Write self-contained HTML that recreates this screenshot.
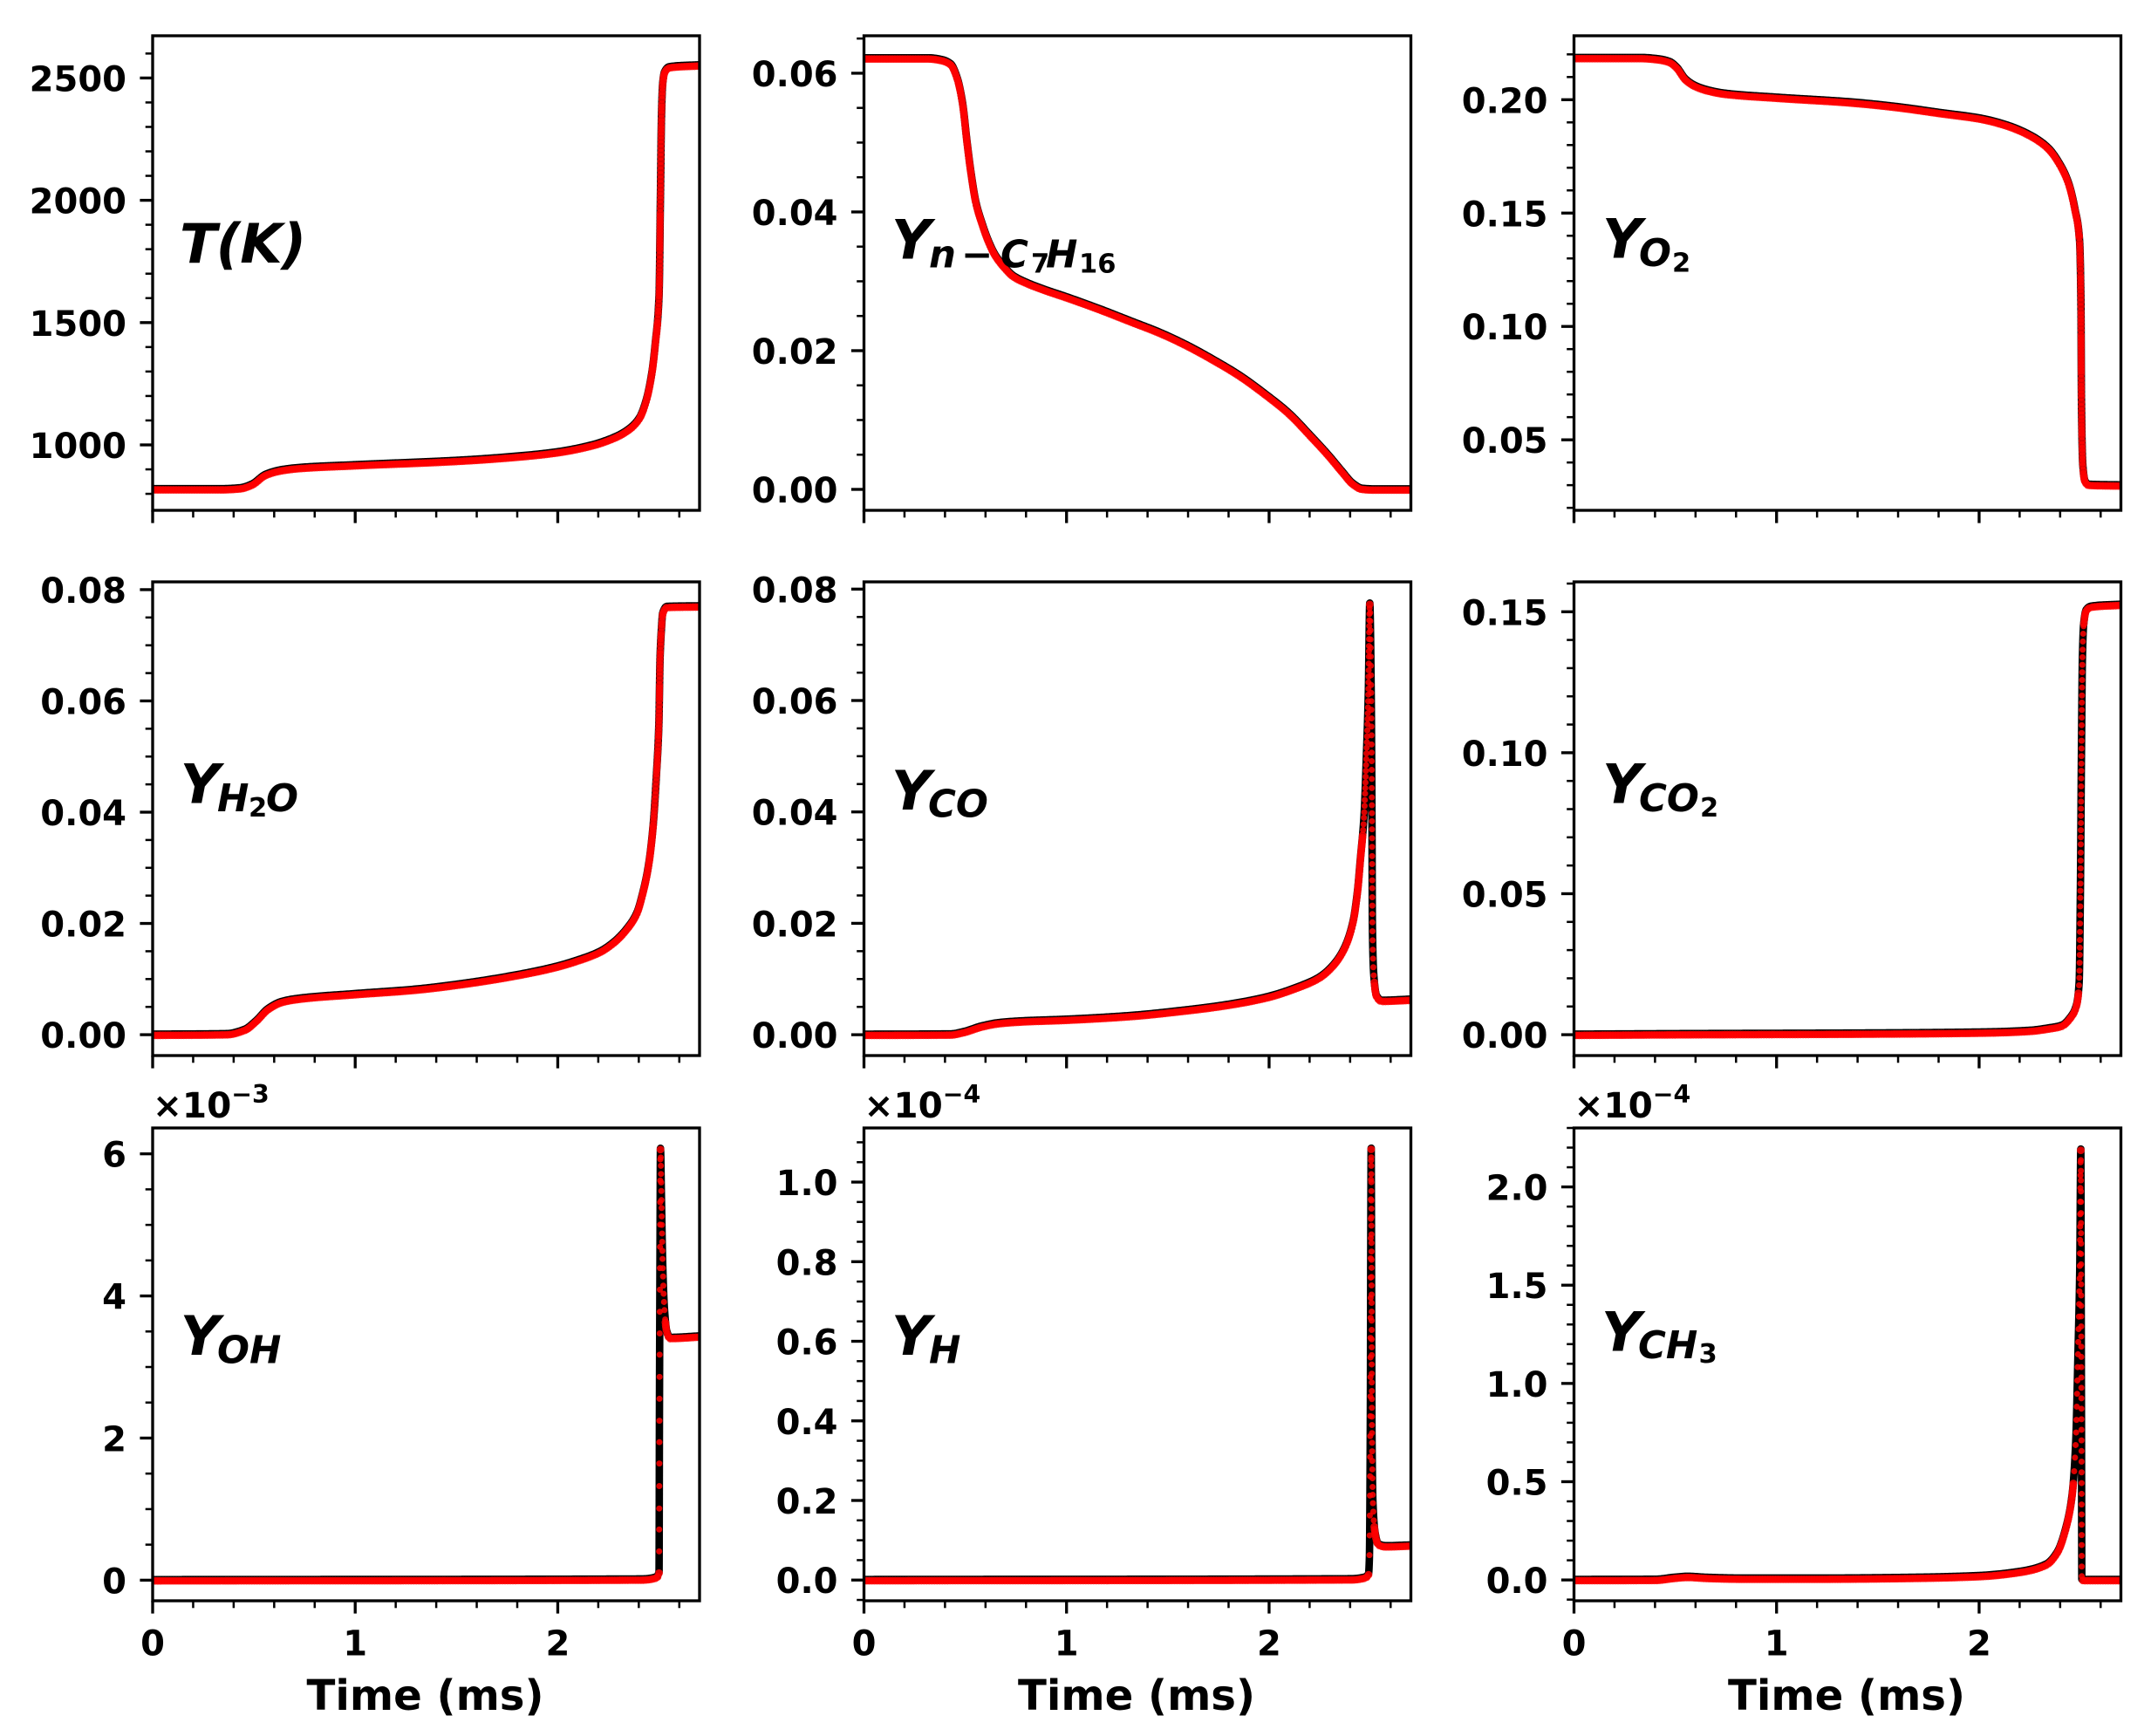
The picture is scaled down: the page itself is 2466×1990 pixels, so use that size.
<!DOCTYPE html>
<html>
<head>
<meta charset="utf-8">
<title>Ignition time histories</title>
<style>
html,body{margin:0;padding:0;background:#fff;}
svg{display:block;}
text{font-family:"DejaVu Sans","Liberation Sans",sans-serif;font-weight:700;fill:#000;}
</style>
</head>
<body>
<svg id="figure" xmlns="http://www.w3.org/2000/svg" width="2466" height="1990" viewBox="0 0 2466 1990">
<rect x="0" y="0" width="2466" height="1990" fill="#fff"/>
</svg>
<script>
// ---- shared axis data ----
const xTicksMajor = [0, 1, 2];
const xTickLabels = ['0', '1', '2'];
const xMax = 2.7;
const xMinorStep = 0.2;

// ---- temperature ----
const timeT = [0,0.342,0.433,0.49,0.558,0.638,0.729,1.0,1.525,1.753,1.981,2.163,2.277,2.345,2.402,2.436,2.464,2.482,2.5,2.507,2.512,2.518,2.527,2.55,2.7];
const valueT = [819,819,823,838,878,897,906,917,936,949,968,997,1029,1060,1108,1180,1291,1418,1609,2022,2340,2475,2523,2544,2552];
const ticksT = ['1000','1500','2000','2500'];

// ---- n-heptane ----
const timeC7 = [0,0.318,0.384,0.428,0.461,0.487,0.509,0.527,0.553,0.582,0.614,0.647,0.691,0.735,0.801,0.889,1.0,1.152,1.328,1.459,1.591,1.723,1.854,1.986,2.096,2.205,2.293,2.359,2.414,2.458,2.513,2.7];
const valueC7 = [0.06215,0.06215,0.0619,0.0613,0.0592,0.0556,0.05,0.0459,0.0413,0.0384,0.0358,0.0338,0.0321,0.0308,0.0298,0.0288,0.0277,0.0261,0.0241,0.0226,0.0208,0.0187,0.0164,0.0136,0.011,0.0077,0.0049,0.0026,0.0008,0.0001,0,0];
const ticksC7 = ['0.00','0.02','0.04','0.06'];

// ---- O2 ----
const timeO2 = [0,0.329,0.418,0.473,0.506,0.55,0.595,0.661,0.75,1.0,1.369,1.59,1.81,2.01,2.142,2.253,2.341,2.397,2.441,2.474,2.496,2.503,2.505,2.512,2.523,2.541,2.7];
const valueO2 = [0.2184,0.2184,0.2178,0.2166,0.2143,0.209,0.2062,0.2041,0.2026,0.2009,0.1988,0.1968,0.1941,0.1916,0.1885,0.1842,0.1786,0.1717,0.1633,0.1512,0.1375,0.107,0.069,0.0386,0.0317,0.0302,0.0299];
const ticksO2 = ['0.05','0.10','0.15','0.20'];

// ---- H2O ----
const timeH2O = [0,0.364,0.455,0.512,0.569,0.638,0.729,1.0,1.296,1.525,1.753,1.981,2.094,2.208,2.277,2.345,2.391,2.418,2.448,2.471,2.487,2.499,2.505,2.512,2.518,2.539,2.7];
const valueH2O = [0,0.0001,0.0009,0.0025,0.0046,0.0059,0.0065,0.0073,0.0081,0.0091,0.0104,0.0121,0.0133,0.0149,0.0166,0.0192,0.0219,0.0252,0.0304,0.0376,0.0466,0.0556,0.0676,0.073,0.0757,0.0769,0.077];
const ticksH2O = ['0.00','0.02','0.04','0.06','0.08'];

// ---- CO ----
const timeCO = [0,0.428,0.494,0.582,0.669,0.779,1.0,1.328,1.547,1.766,1.986,2.14,2.249,2.315,2.37,2.414,2.436,2.451,2.469,2.48,2.49,2.497,2.504,2.508,2.51,2.517,2.53,2.556,2.7];
const valueCO = [0,0.00006,0.0005,0.0015,0.0021,0.0024,0.0027,0.0034,0.0042,0.0052,0.0067,0.0085,0.0103,0.0124,0.0154,0.0202,0.0256,0.0316,0.0394,0.0496,0.0615,0.0774,0.0615,0.0376,0.0196,0.0106,0.007,0.0061,0.0063];
const ticksCO = ['0.00','0.02','0.04','0.06','0.08'];

// ---- CO2 ----
const timeCO2 = [0,0.55,1.37,2.03,2.253,2.34,2.408,2.452,2.48,2.494,2.5,2.505,2.51,2.516,2.529,2.552,2.7];
const valueCO2 = [0,0.0002,0.0004,0.0008,0.0014,0.0022,0.0032,0.0062,0.0103,0.0186,0.0506,0.098,0.1334,0.1453,0.1506,0.1518,0.1525];
const ticksCO2 = ['0.00','0.05','0.10','0.15'];

// ---- OH (x 1e-3) ----
const timeOH = [0,2.41,2.482,2.5,2.502,2.505,2.507,2.512,2.518,2.527,2.538,2.555,2.7];
const valueOH = [0,0.01,0.036,0.11,2.37,4.75,6.07,5.34,4.45,3.8,3.5,3.41,3.43];
const ticksOH = ['0','2','4','6'];

// ---- H (x 1e-4) ----
const timeH = [0,2.403,2.469,2.491,2.495,2.5,2.502,2.504,2.506,2.508,2.513,2.524,2.539,2.578,2.7];
const valueH = [0,0.002,0.006,0.015,0.052,0.424,0.848,1.084,0.742,0.37,0.19,0.116,0.09,0.085,0.087];
const ticksH = ['0.0','0.2','0.4','0.6','0.8','1.0'];

// ---- CH3 (x 1e-4) ----
const timeCH3 = [0,0.403,0.494,0.562,0.653,0.834,1.219,1.672,2.0,2.193,2.33,2.386,2.431,2.459,2.477,2.488,2.497,2.502,2.504,2.506,2.507,2.523,2.7];
const valueCH3 = [0,0.001,0.011,0.016,0.011,0.007,0.007,0.011,0.02,0.04,0.078,0.141,0.275,0.431,0.7,1.146,1.593,2.19,1.37,0.476,0.002,0,0];
const ticksCH3 = ['0.0','0.5','1.0','1.5','2.0'];

const NS = 'http://www.w3.org/2000/svg';
const svg = document.getElementById('figure');
const colLeft = [175, 990.5, 1804.5];
const rowTop = [41, 667, 1293];
const rowBottom = [585, 1210, 1835];
const plotWidth = 627;

const TICK_FONT = 40, XLABEL_FONT = 48.2, OFFSET_FONT = 40.5, LABEL_FONT = 62.5, SUB_FONT = 43.5, SUBSUB_FONT = 30.5;

const panels = [
 {id:'temperature',c:0,r:0,t:timeT,v:valueT,ticks:ticksT,lo:732.5,hi:2672.6,minor:100,gapUp:3.5,gapDown:3.5,
  label:[{s:'T(K)',x:206,y:301,f:LABEL_FONT,i:1,ls:-1}]},
 {id:'n-heptane',c:1,r:0,t:timeC7,v:valueC7,ticks:ticksC7,lo:-0.00302,hi:0.0654,minor:0.005,gapUp:3,gapDown:3,
  label:[{s:'Y',x:1022,y:296.5,f:LABEL_FONT,i:1},{s:'n',x:1065,y:306.5,f:SUB_FONT,i:1},{s:'\u2212',x:1102,y:306.5,f:SUB_FONT,i:0},{s:'C',x:1147,y:306.5,f:SUB_FONT,i:1},{s:'7',x:1182,y:312.5,f:SUBSUB_FONT,i:0},{s:'H',x:1199,y:306.5,f:SUB_FONT,i:1},{s:'16',x:1237,y:312.5,f:SUBSUB_FONT,i:0}]},
 {id:'oxygen',c:2,r:0,t:timeO2,v:valueO2,ticks:ticksO2,lo:0.0189,hi:0.2282,minor:0.01,gapUp:3.5,gapDown:3.5,
  label:[{s:'Y',x:1837,y:295.6,f:LABEL_FONT,i:1},{s:'O',x:1879,y:305,f:SUB_FONT,i:1},{s:'2',x:1917,y:311.5,f:SUBSUB_FONT,i:0}]},
 {id:'water',c:0,r:1,t:timeH2O,v:valueH2O,ticks:ticksH2O,lo:-0.00375,hi:0.0814,minor:0.005,gapUp:3.5,gapDown:3.5,
  label:[{s:'Y',x:206.7,y:920.4,f:LABEL_FONT,i:1},{s:'H',x:249,y:930.2,f:SUB_FONT,i:1},{s:'2',x:285,y:936,f:SUBSUB_FONT,i:0},{s:'O',x:305,y:930.2,f:SUB_FONT,i:1}]},
 {id:'carbon-monoxide',c:1,r:1,t:timeCO,v:valueCO,ticks:ticksCO,lo:-0.00374,hi:0.0813,minor:0.005,gapUp:6,gapDown:9,
  label:[{s:'Y',x:1022,y:928,f:LABEL_FONT,i:1},{s:'CO',x:1064,y:936.5,f:SUB_FONT,i:1}]},
 {id:'carbon-dioxide',c:2,r:1,t:timeCO2,v:valueCO2,ticks:ticksCO2,lo:-0.0074,hi:0.1606,minor:0.01,gapUp:8,gapDown:8,
  label:[{s:'Y',x:1837,y:920.4,f:LABEL_FONT,i:1},{s:'CO',x:1879,y:930.2,f:SUB_FONT,i:1},{s:'2',x:1949,y:936,f:SUBSUB_FONT,i:0}]},
 {id:'hydroxyl',c:0,r:2,t:timeOH,v:valueOH,ticks:ticksOH,lo:-0.29,hi:6.364,minor:0.5,gapUp:24,gapDown:9,exp:'\u22123',
  label:[{s:'Y',x:206.7,y:1553,f:LABEL_FONT,i:1},{s:'OH',x:249,y:1562.5,f:SUB_FONT,i:1}]},
 {id:'hydrogen',c:1,r:2,t:timeH,v:valueH,ticks:ticksH,lo:-0.0521,hi:1.136,minor:0.05,gapUp:22,gapDown:9,exp:'\u22124',
  label:[{s:'Y',x:1022,y:1553,f:LABEL_FONT,i:1},{s:'H',x:1065,y:1562.5,f:SUB_FONT,i:1}]},
 {id:'methyl',c:2,r:2,t:timeCH3,v:valueCH3,ticks:ticksCH3,lo:-0.106,hi:2.30,minor:0.1,gapUp:14,gapDown:11,exp:'\u22124',
  label:[{s:'Y',x:1836,y:1548.6,f:LABEL_FONT,i:1},{s:'CH',x:1878,y:1557,f:SUB_FONT,i:1},{s:'3',x:1947.5,y:1562.2,f:SUBSUB_FONT,i:0}]}
];

function make(tag, attrs, parent){
  const el = document.createElementNS(NS, tag);
  for (const k in attrs) el.setAttribute(k, attrs[k]);
  parent.appendChild(el);
  return el;
}

// monotone cubic curve evaluator, only used to draw smoothly between the read values
function monotone(xs, ys){
  const n = xs.length, d = [], h = [], m = new Array(n);
  for (let i=0;i<n-1;i++){ h[i]=xs[i+1]-xs[i]; d[i]=(ys[i+1]-ys[i])/h[i]; }
  m[0]=d[0]; m[n-1]=d[n-2];
  for (let i=1;i<n-1;i++){
    if (d[i-1]*d[i]<=0) m[i]=0;
    else { const w1=2*h[i]+h[i-1], w2=h[i]+2*h[i-1]; m[i]=(w1+w2)/(w1/d[i-1]+w2/d[i]); }
  }
  return function(i,u){
    const s=u*u, c=s*u;
    return (2*c-3*s+1)*ys[i]+(c-2*s+u)*h[i]*m[i]+(-2*c+3*s)*ys[i+1]+(c-s)*h[i]*m[i+1];
  };
}

panels.forEach(function(p, idx){
  const L = colLeft[p.c], R = L + plotWidth, T = rowTop[p.r], B = rowBottom[p.r];
  const xScale = function(t){ return L + t / xMax * plotWidth; };
  const yScale = function(v){ return B - (v - p.lo) / (p.hi - p.lo) * (B - T); };

  const g = make('g', {}, svg);
  
  

  const defs = make('defs', {}, g);
  const clip = make('clipPath', {id:'clip' + idx}, defs);
  make('rect', {x:L, y:T, width:plotWidth, height:B-T}, clip);

  // dense sampled path through the data
  const f = monotone(p.t, p.v);
  const pts = [];
  for (let i=0;i<p.t.length-1;i++){
    const x0=xScale(p.t[i]), x1=xScale(p.t[i+1]), y0=yScale(p.v[i]), y1=yScale(p.v[i+1]);
    const n = Math.max(2, Math.ceil(Math.hypot(x1-x0,y1-y0)/1.5));
    for (let j=0;j<n;j++){
      const u=j/n;
      pts.push([xScale(p.t[i]+u*(p.t[i+1]-p.t[i])), yScale(f(i,u))]);
    }
  }
  const last = p.t.length-1;
  pts.push([xScale(p.t[last]), yScale(p.v[last])]);

  const plot = make('g', {'clip-path':'url(#clip' + idx + ')'}, g);
  
  

  let dStr = '';
  pts.forEach(function(q,i){ dStr += (i?'L':'M') + q[0].toFixed(2) + ' ' + (q[1]-0.6).toFixed(2); });
  const line = make('path', {d:dStr, fill:'none', stroke:'#000', 'stroke-width':8.6, 'stroke-linecap':'round', 'stroke-linejoin':'round'}, plot);
  
  

  // scatter markers along the line
  const dotGroup = make('g', {fill:'#f00', 'fill-opacity':0.85}, plot);
  
  
  let acc = 1e9;
  for (let i=0;i<pts.length;i++){
    let gap = 2.4, rad = 4.4;
    if (i>0){
      const dx=pts[i][0]-pts[i-1][0], dy=pts[i][1]-pts[i-1][1];
      acc += Math.hypot(dx,dy);
      const slope = Math.abs(dy)/Math.max(Math.abs(dx),1e-6);
      if (slope > 12){
        gap = dy < 0 ? p.gapUp : p.gapDown;
        rad = gap > 5 ? 3.5 : 4.2;
      }
    }
    if (acc >= gap){
      acc = 0;
      const dot = make('circle', {cx:pts[i][0].toFixed(2), cy:(pts[i][1]+0.8).toFixed(2), r:rad}, dotGroup);
      
      
    }
  }

  // minor y ticks
  const minorStart = Math.ceil(p.lo / p.minor - 1e-6);
  const minorEnd = Math.floor(p.hi / p.minor + 1e-6);
  for (let k=minorStart;k<=minorEnd;k++){
    const y = yScale(k * p.minor);
    const tk = make('line', {x1:L-8.3, x2:L, y1:y, y2:y, stroke:'#000', 'stroke-width':2.5}, g);
    
    
  }
  // major y ticks and labels
  p.ticks.forEach(function(lbl){
    const y = yScale(parseFloat(lbl));
    const tk = make('line', {x1:L-14.6, x2:L, y1:y, y2:y, stroke:'#000', 'stroke-width':3.33}, g);
    
    
    const tx = make('text', {x:L-30, y:y+15, 'text-anchor':'end', 'font-size':TICK_FONT}, g);
    
    
    tx.textContent = lbl;
  });
  // minor x ticks
  const xMinorCount = Math.floor(xMax / xMinorStep + 1e-6);
  for (let k=0;k<=xMinorCount;k++){
    const x = xScale(k * xMinorStep);
    const tk = make('line', {x1:x, x2:x, y1:B, y2:B+8.3, stroke:'#000', 'stroke-width':2.5}, g);
    
    
  }
  // major x ticks
  xTicksMajor.forEach(function(t, i){
    const x = xScale(t);
    const tk = make('line', {x1:x, x2:x, y1:B, y2:B+14.6, stroke:'#000', 'stroke-width':3.33}, g);
    
    
    if (p.r === 2){
      const tx = make('text', {x:x, y:B+62.5, 'text-anchor':'middle', 'font-size':TICK_FONT}, g);
      
      
      tx.textContent = xTickLabels[i];
    }
  });

  // frame
  const frame = make('rect', {x:L, y:T, width:plotWidth, height:B-T, fill:'none', stroke:'#000', 'stroke-width':3.33}, g);
  
  

  // x axis title
  if (p.r === 2){
    const xt = make('text', {x:L+plotWidth/2-1, y:1960, 'text-anchor':'middle', 'font-size':XLABEL_FONT}, g);
    
    
    xt.textContent = 'Time (ms)';
  }

  // axis multiplier
  if (p.exp){
    const off = make('text', {x:L, y:1281, 'font-size':OFFSET_FONT}, g);
    
    
    const base = make('tspan', {}, off);
    base.textContent = '\u00d710';
    const sup = make('tspan', {dy:-17, 'font-size':OFFSET_FONT*0.7}, off);
    sup.textContent = p.exp;
  }

  // species label
  const label = make('text', {}, g);
  
  
  p.label.forEach(function(run){
    const ts = make('tspan', {x:run.x, y:run.y, 'font-size':run.f, 'font-style':run.i ? 'italic' : 'normal'}, label);
    if (run.ls) ts.setAttribute('letter-spacing', run.ls);
    ts.textContent = run.s;
  });
});
</script>
</body>
</html>
